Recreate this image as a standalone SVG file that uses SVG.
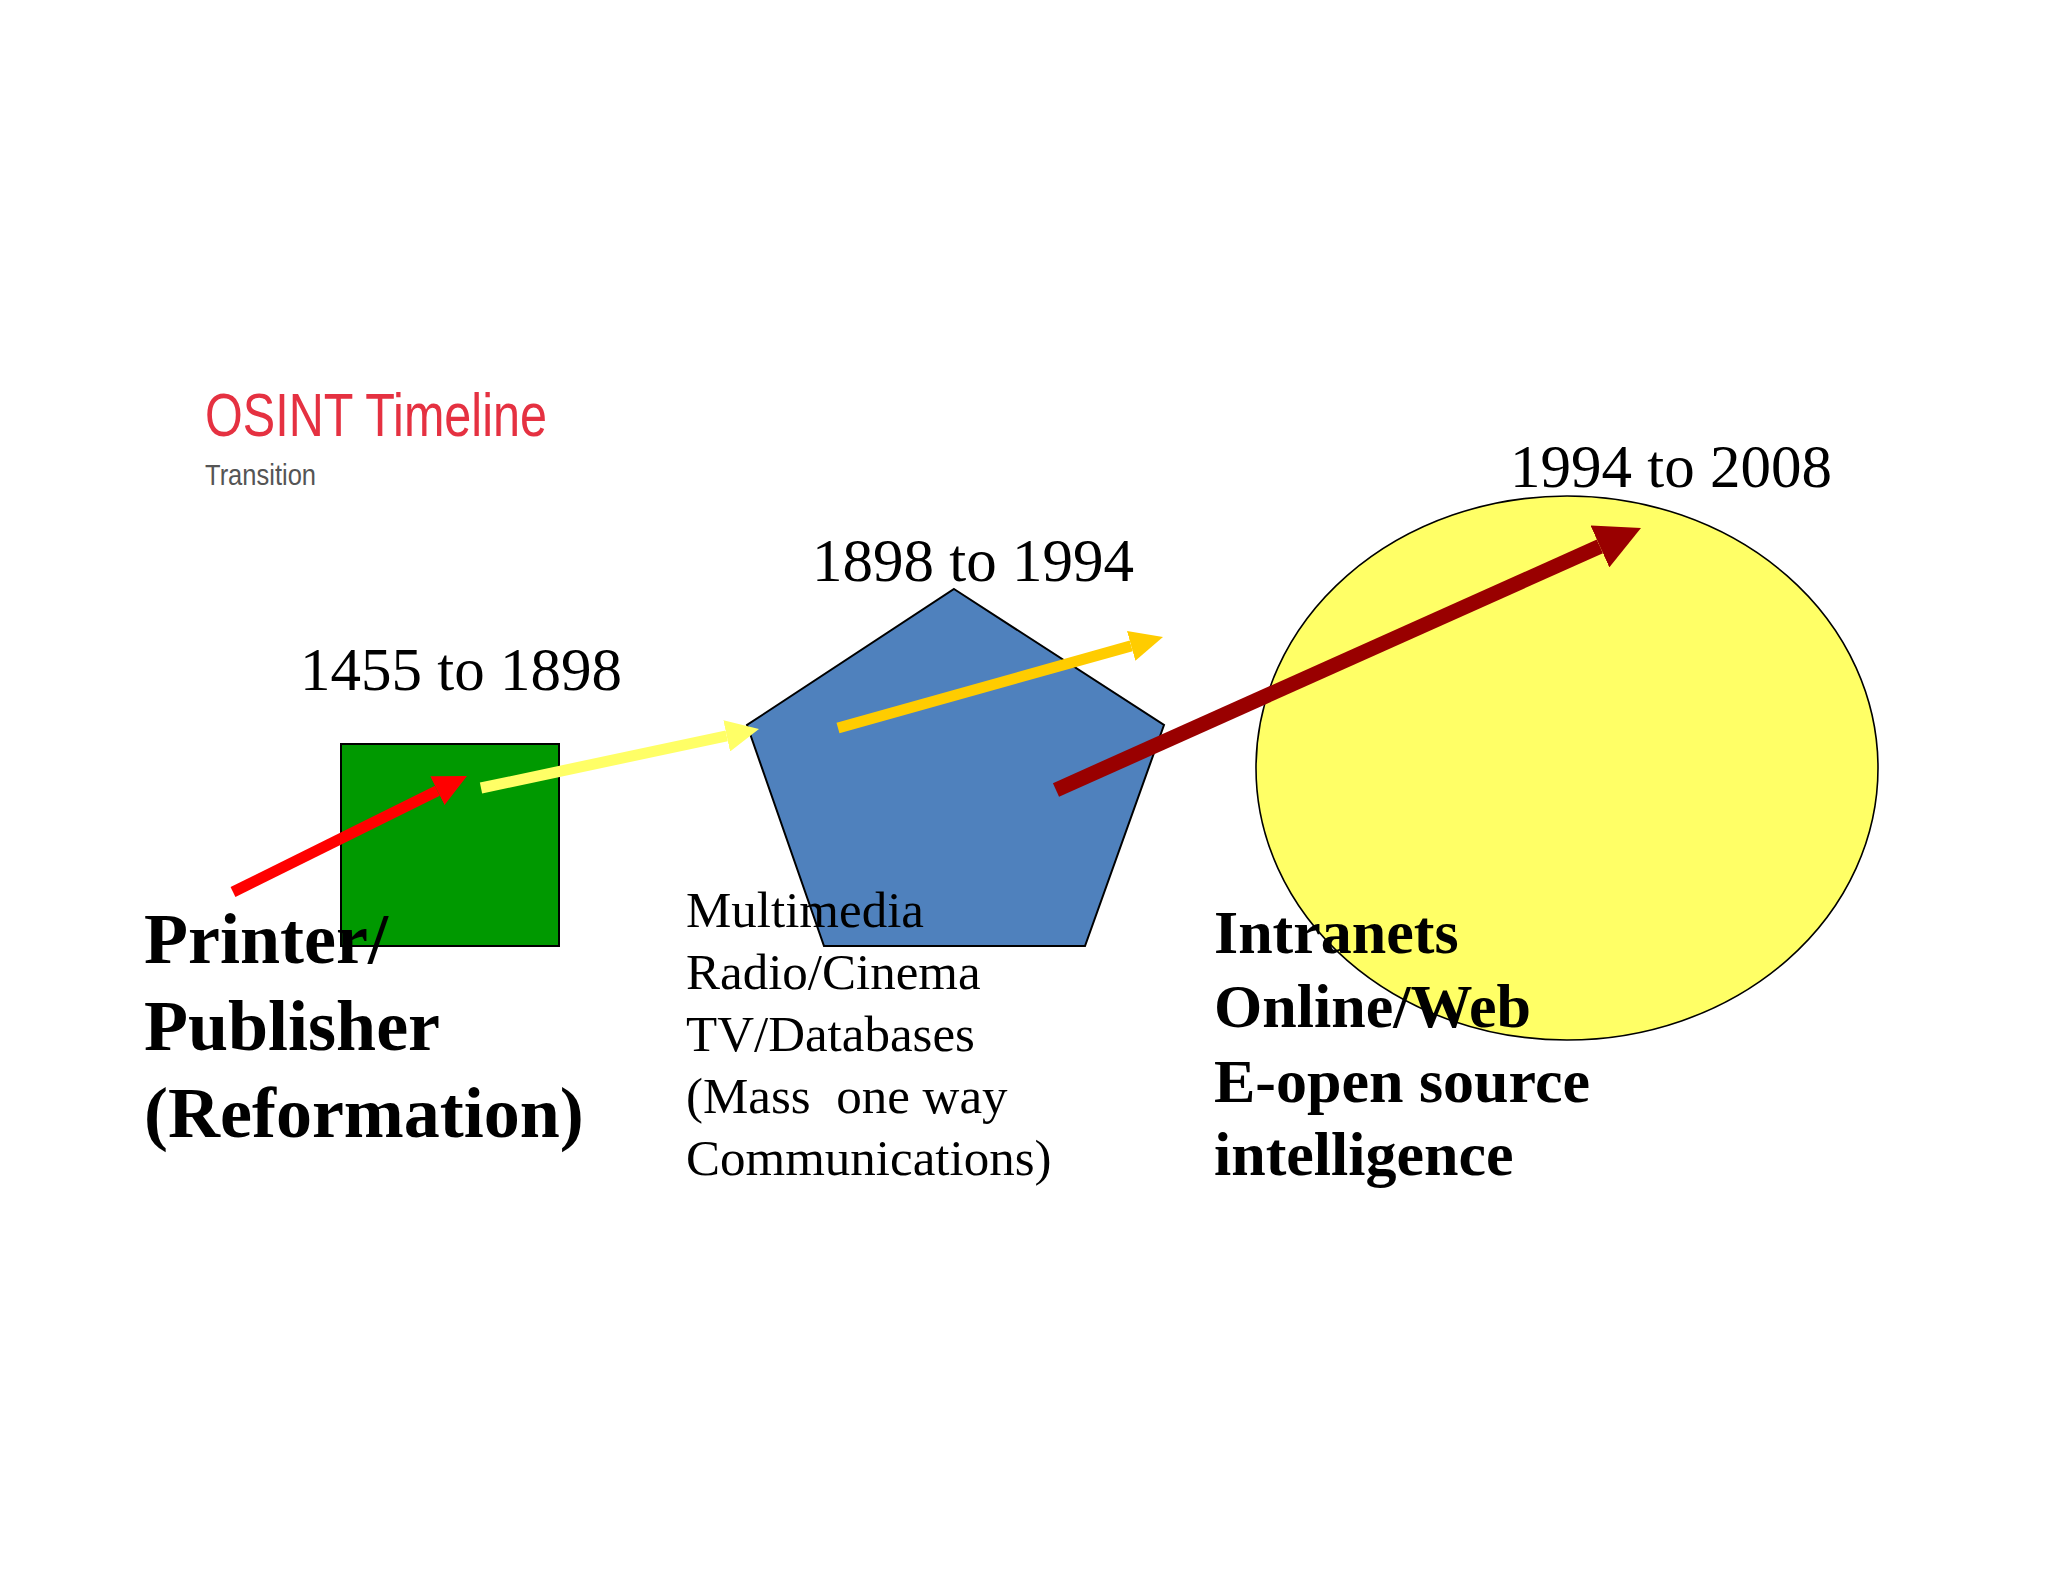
<svg xmlns="http://www.w3.org/2000/svg" width="2048" height="1582" viewBox="0 0 2048 1582">
  <style>
    .year { font-family: "Liberation Serif", "Times New Roman", serif; font-size: 61px; fill: #000; }
    .bold { font-family: "Liberation Serif", "Times New Roman", serif; font-weight: bold; fill: #000; }
    .reg { font-family: "Liberation Serif", "Times New Roman", serif; font-size: 51px; fill: #000; }
    .shape { stroke: #000; stroke-width: 2; }
    .conn { fill: none; stroke-linecap: butt; }
  </style>
  <defs>
    <marker id="head-red" markerUnits="userSpaceOnUse" viewBox="0 0 33 32" markerWidth="33" markerHeight="32" refX="0" refY="16" orient="auto">
      <path d="M0,0 L33,16 L0,32 Z" fill="#ff0000"/>
    </marker>
    <marker id="head-yellow" markerUnits="userSpaceOnUse" viewBox="0 0 33 32" markerWidth="33" markerHeight="32" refX="0" refY="16" orient="auto">
      <path d="M0,0 L33,16 L0,32 Z" fill="#ffff66"/>
    </marker>
    <marker id="head-gold" markerUnits="userSpaceOnUse" viewBox="0 0 33 31" markerWidth="33" markerHeight="31" refX="0" refY="15.5" orient="auto">
      <path d="M0,0 L33,15.5 L0,31 Z" fill="#ffcc00"/>
    </marker>
    <marker id="head-darkred" markerUnits="userSpaceOnUse" viewBox="0 0 45 46" markerWidth="45" markerHeight="46" refX="0" refY="23" orient="auto">
      <path d="M0,0 L45,23 L0,46 Z" fill="#990000"/>
    </marker>
  </defs>

  <rect x="0" y="0" width="2048" height="1582" fill="#ffffff"/>

  <g id="title">
    <text x="205" y="436" font-family="'Liberation Sans', Arial, sans-serif" font-size="62" fill="#e53141" textLength="342" lengthAdjust="spacingAndGlyphs">OSINT Timeline</text>
    <text x="205" y="485" font-family="'Liberation Sans', Arial, sans-serif" font-size="30" fill="#555555" textLength="111" lengthAdjust="spacingAndGlyphs">Transition</text>
  </g>

  <g id="node-printer">
    <rect class="shape" x="341" y="744" width="218" height="202" fill="#009900"/>
    <text class="year" x="300" y="690">1455 to 1898</text>
    <text class="bold" font-size="72">
      <tspan x="144" y="963">Printer/</tspan>
      <tspan x="144" y="1050">Publisher</tspan>
      <tspan x="144" y="1137">(Reformation)</tspan>
    </text>
  </g>

  <g id="node-multimedia">
    <polygon class="shape" points="954,589 1164,725 1085,946 824,946 747,725" fill="#4f81bd"/>
    <text class="year" x="812" y="581">1898 to 1994</text>
    <text class="reg">
      <tspan x="686" y="927">Multimedia</tspan>
      <tspan x="686" y="989">Radio/Cinema</tspan>
      <tspan x="686" y="1051">TV/Databases</tspan>
      <tspan x="686" y="1113" xml:space="preserve">(Mass  one way</tspan>
      <tspan x="686" y="1175">Communications)</tspan>
    </text>
  </g>

  <g id="node-web">
    <ellipse cx="1567" cy="768" rx="311" ry="272" fill="#ffff66" stroke="#000" stroke-width="1.6"/>
    <text class="year" x="1510" y="487">1994 to 2008</text>
    <text class="bold" font-size="62">
      <tspan x="1214" y="953">Intranets</tspan>
      <tspan x="1214" y="1027">Online/Web</tspan>
      <tspan x="1214" y="1102">E-open source</tspan>
      <tspan x="1214" y="1175">intelligence</tspan>
    </text>
  </g>

  <g id="connectors">
    <line class="conn" x1="233" y1="892" x2="437.4" y2="790.7" stroke="#ff0000" stroke-width="11" marker-end="url(#head-red)"/>
    <line class="conn" x1="481" y1="788" x2="726.7" y2="735.9" stroke="#ffff66" stroke-width="11" marker-end="url(#head-yellow)"/>
    <line class="conn" x1="838" y1="728" x2="1131.2" y2="645.9" stroke="#ffcc00" stroke-width="11" marker-end="url(#head-gold)"/>
    <line class="conn" x1="1056" y1="790" x2="1599.9" y2="546.4" stroke="#990000" stroke-width="15" marker-end="url(#head-darkred)"/>
  </g>
</svg>
